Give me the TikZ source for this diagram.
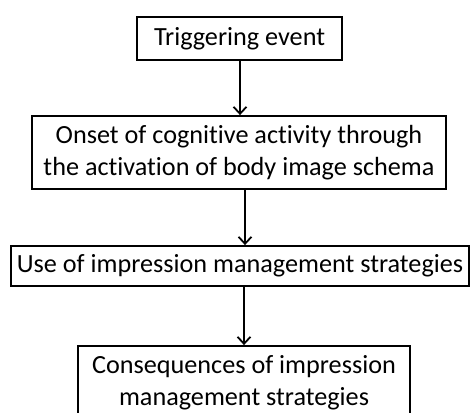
\documentclass[tikz,border=0pt]{standalone}
\usepackage{fontspec}
\setmainfont{Carlito}[Ligatures=NoCommon]
\usetikzlibrary{arrows.meta}
\begin{document}
\begin{tikzpicture}[x=1pt,y=-1pt,
  flowbox/.style={draw=black, line width=1.8pt, align=center, inner sep=0pt,
    font=\fontsize{26.2}{31.5}\selectfont},
  flowarrow/.style={line width=1.8pt, -{Straight Barb[length=7pt,width=13pt,line width=1.8pt]}}]
  \useasboundingbox (0,0) rectangle (470,412);
  \clip (0,0) rectangle (470,412);
  \node[flowbox, minimum width=205pt, minimum height=43pt] (b1) at (239.5,38.8) {Triggering event};
  \node[flowbox, minimum width=414pt, minimum height=73pt] (b2) at (239,152.5)
    {Onset of cognitive activity through\\the activation of body image schema};
  \node[flowbox, minimum width=458pt, minimum height=40pt] (b3) at (240,266)
    {Use of impression management strategies};
  \node[flowbox, minimum width=332pt, minimum height=73pt] (b4) at (244,382.5)
    {Consequences of impression\\management strategies};
  \draw[flowarrow] ([xshift=0.5pt]b1.south) -- ([xshift=0.5pt]b1.south |- b2.north);
  \draw[flowarrow] ([xshift=6pt]b2.south) -- ([xshift=6pt]b2.south |- b3.north);
  \draw[flowarrow] ([xshift=4pt]b3.south) -- ([xshift=4pt]b3.south |- b4.north);
\end{tikzpicture}
\end{document}
